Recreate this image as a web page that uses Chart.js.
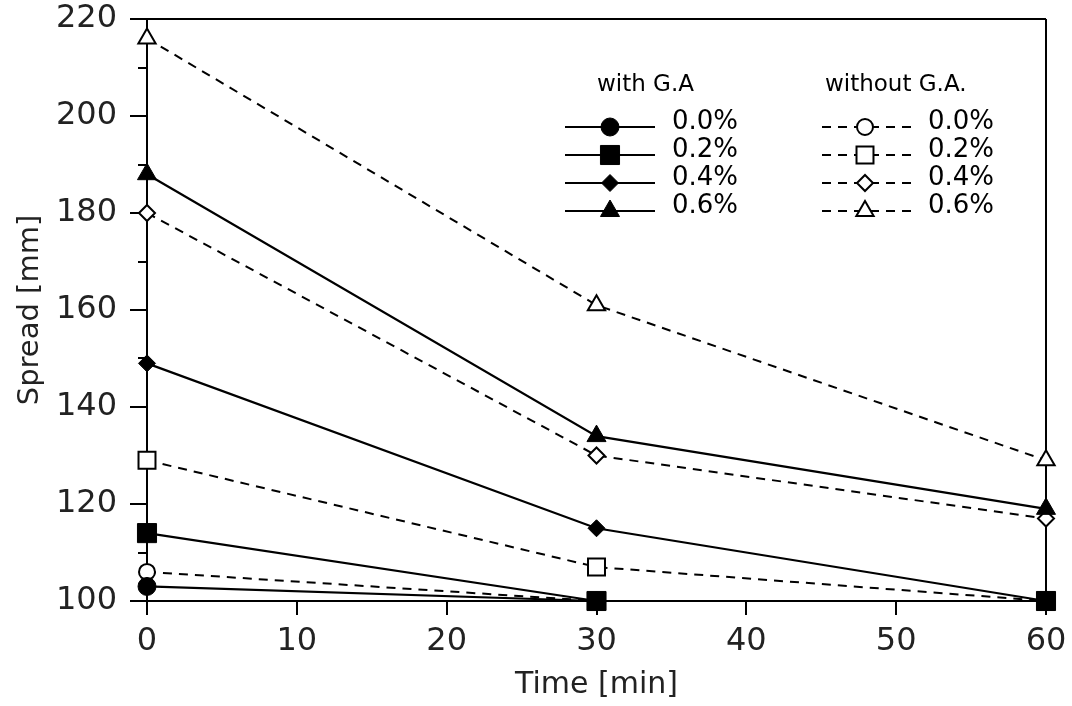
<!DOCTYPE html>
<html>
<head>
<meta charset="utf-8">
<script src="https://cdn.jsdelivr.net/npm/chart.js@4/dist/chart.umd.min.js"></script>
<style>
  html, body { margin: 0; padding: 0; background: #fff; }
  #c { display: block; }
</style>
</head>
<body>
<canvas id="c" width="1072" height="706"></canvas>
<script>
// ---- data ----
const timeMin = [0, 30, 60];
const xTickValues = [0, 10, 20, 30, 40, 50, 60];
const yTickValues = [100, 120, 140, 160, 180, 200, 220];
const yMinorTickValues = [110, 130, 150, 170, 190, 210];
const concentrations = ['0.0%', '0.2%', '0.4%', '0.6%'];

const withGA00 = [103, 100, 100];
const withGA02 = [114, 100, 100];
const withGA04 = [149, 115, 100];
const withGA06 = [188, 134, 119];

const withoutGA00 = [106, 100, 100];
const withoutGA02 = [129, 107, 100];
const withoutGA04 = [180, 130, 117];
const withoutGA06 = [216, 161, 129];

const groupTitles = ['with G.A', 'without G.A.'];
const xTitle = 'Time [min]';
const yTitle = 'Spread [mm]';

// ---- styles ----
const FONT = '"DejaVu Sans", Verdana, sans-serif';
const DASH = [9, 7];
const styles = [
  { pointStyle: 'circle', filledR: 9, openR: 8 },
  { pointStyle: 'rect', filledR: 13.5, openR: 12 },
  { pointStyle: 'rectRot', filledR: 8.5, openR: 8 },
  { pointStyle: 'triangle', filledR: 11, openR: 10 }
];

function toPoints(arr) { return arr.map((v, i) => ({ x: timeMin[i], y: v })); }

function solidSet(label, arr, s) {
  return {
    label: label, data: toPoints(arr), borderColor: '#000', borderWidth: 2.2,
    pointStyle: s.pointStyle, pointRadius: s.filledR, pointBackgroundColor: '#000',
    pointBorderColor: '#000', pointBorderWidth: 1, clip: false, tension: 0, fill: false
  };
}
function dashedSet(label, arr, s) {
  return {
    label: label, data: toPoints(arr), borderColor: '#000', borderWidth: 2, borderDash: DASH,
    pointStyle: s.pointStyle, pointRadius: s.openR, pointBackgroundColor: '#fff',
    pointBorderColor: '#000', pointBorderWidth: 2, clip: false, tension: 0, fill: false
  };
}

const withSeries = [withGA00, withGA02, withGA04, withGA06];
const withoutSeries = [withoutGA00, withoutGA02, withoutGA04, withoutGA06];
const datasets = [];
withSeries.forEach((arr, i) => datasets.push(solidSet(groupTitles[0] + ' ' + concentrations[i], arr, styles[i])));
withoutSeries.forEach((arr, i) => datasets.push(dashedSet(groupTitles[1] + ' ' + concentrations[i], arr, styles[i])));

// ---- frame, ticks ----
const framePlugin = {
  id: 'frame',
  beforeDatasetsDraw(chart) {
    const ctx = chart.ctx;
    const a = chart.chartArea;
    const xs = chart.scales.x, ys = chart.scales.y;
    const outLeft = a.left - 17;
    ctx.save();
    ctx.strokeStyle = '#000';
    ctx.lineWidth = 2;
    ctx.setLineDash([]);
    ctx.beginPath();
    ctx.moveTo(outLeft, a.top); ctx.lineTo(a.right, a.top);
    ctx.moveTo(outLeft, a.bottom); ctx.lineTo(a.right, a.bottom);
    ctx.moveTo(a.right, a.top); ctx.lineTo(a.right, a.bottom);
    ctx.moveTo(a.left, a.top); ctx.lineTo(a.left, a.bottom);
    yTickValues.forEach(v => {
      const p = Math.round(ys.getPixelForValue(v));
      ctx.moveTo(outLeft, p); ctx.lineTo(a.left, p);
    });
    yMinorTickValues.forEach(v => {
      const p = Math.round(ys.getPixelForValue(v));
      ctx.moveTo(a.left - 9, p); ctx.lineTo(a.left, p);
    });
    xTickValues.forEach(v => {
      const p = Math.round(xs.getPixelForValue(v));
      ctx.moveTo(p, a.bottom); ctx.lineTo(p, a.bottom + 14);
    });
    ctx.stroke();
    ctx.restore();
  }
};

// ---- custom two-column legend ----
const legendPlugin = {
  id: 'twoColLegend',
  afterDraw(chart) {
    const ctx = chart.ctx;
    const cols = [
      { head: groupTitles[0], headX: 597, x0: 565, x1: 655, mx: 610, tx: 672, start: 0 },
      { head: groupTitles[1], headX: 825, x0: 822, x1: 912, mx: 865, tx: 928, start: 4 }
    ];
    const rowY = [127, 155, 183, 211];
    ctx.save();
    ctx.fillStyle = '#000';
    ctx.textBaseline = 'middle';
    ctx.textAlign = 'left';
    cols.forEach(c => {
      ctx.font = '23px ' + FONT;
      ctx.fillStyle = '#000';
      ctx.fillText(c.head, c.headX, 85);
      for (let i = 0; i < 4; i++) {
        const ds = chart.data.datasets[c.start + i];
        const y = rowY[i];
        ctx.strokeStyle = '#000';
        ctx.lineWidth = ds.borderWidth;
        ctx.setLineDash(ds.borderDash || []);
        ctx.beginPath();
        ctx.moveTo(c.x0, y); ctx.lineTo(c.x1, y);
        ctx.stroke();
        ctx.setLineDash([]);
        ctx.fillStyle = ds.pointBackgroundColor;
        ctx.strokeStyle = ds.pointBorderColor;
        ctx.lineWidth = ds.pointBorderWidth;
        Chart.helpers.drawPoint(ctx, {
          pointStyle: ds.pointStyle, radius: ds.pointRadius, rotation: 0,
          borderWidth: ds.pointBorderWidth
        }, c.mx, y);
        ctx.fillStyle = '#000';
        ctx.font = '26px ' + FONT;
        ctx.fillText(concentrations[i], c.tx, y - 5);
      }
    });
    ctx.restore();
  }
};

function zeroPad(s) { s.paddingTop = 0; s.paddingBottom = 0; s.paddingLeft = 0; s.paddingRight = 0; }

new Chart(document.getElementById('c'), {
  type: 'line',
  data: { datasets: datasets },
  plugins: [framePlugin, legendPlugin],
  options: {
    responsive: false,
    animation: false,
    layout: { padding: { top: 19, right: 26, left: 0, bottom: 0 } },
    plugins: { legend: { display: false }, tooltip: { enabled: false } },
    scales: {
      x: {
        type: 'linear', min: 0, max: 60,
        afterBuildTicks: s => { s.ticks = xTickValues.map(v => ({ value: v })); },
        afterFit: s => { s.height = 105; zeroPad(s); },
        grid: { display: false }, border: { display: false },
        ticks: { color: '#222', padding: 13, font: { family: FONT, size: 32 }, maxRotation: 0 },
        title: { display: true, text: xTitle, color: '#222', font: { family: FONT, size: 30 }, padding: { top: 0, bottom: 3 } }
      },
      y: {
        type: 'linear', min: 100, max: 220,
        afterBuildTicks: s => { s.ticks = yTickValues.map(v => ({ value: v })); },
        afterFit: s => { s.width = 147; zeroPad(s); },
        grid: { display: false }, border: { display: false },
        ticks: { color: '#222', padding: 22, font: { family: FONT, size: 32 } },
        title: { display: true, text: yTitle, color: '#222', font: { family: FONT, size: 29 }, padding: { top: 13, bottom: 0 } }
      }
    }
  }
});
</script>
</body>
</html>
